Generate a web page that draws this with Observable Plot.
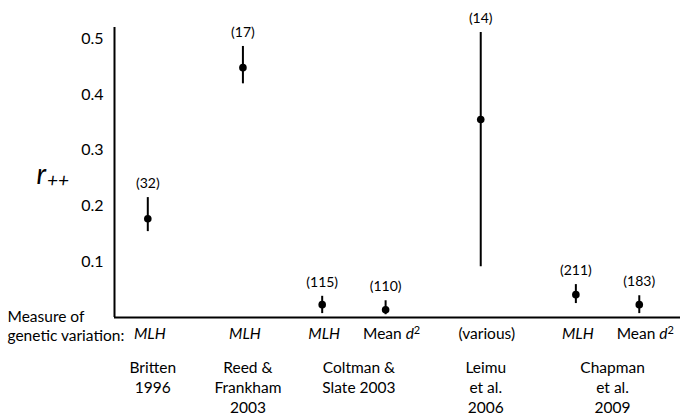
<!DOCTYPE html>
<html><head><meta charset="utf-8">
<script src="https://cdn.jsdelivr.net/npm/d3@7"></script>
<script src="https://cdn.jsdelivr.net/npm/@observablehq/plot@0.6"></script>
<style>
body{margin:0;background:#fff;}
#chart{width:682px;height:415px;}
</style></head><body><div id="chart"></div>
<script>
// ---- data ----
const studies = ["Britten\n1996","Reed &\nFrankham\n2003","Coltman &\nSlate 2003","Coltman &\nSlate 2003","Leimu\net al.\n2006","Chapman\net al.\n2009","Chapman\net al.\n2009"];
const measures = ["MLH","MLH","MLH","Mean d2","(various)","MLH","Mean d2"];
const slots = [1, 7, 12, 16, 22, 28, 32];           // ordinal category slots
const rValues = [0.177, 0.448, 0.023, 0.014, 0.355, 0.041, 0.023];
const lowValues = [0.154, 0.419, 0.007, 0.005, 0.091, 0.025, 0.007];
const highValues = [0.215, 0.486, 0.038, 0.030, 0.511, 0.059, 0.039];
const counts = ["(32)","(17)","(115)","(110)","(14)","(211)","(183)"];
const yTicks = [0.1, 0.2, 0.3, 0.4, 0.5];
const xDomain = [-1.1, 34.6];
const yDomain = [0, 0.52];

const rows = studies.map((s, i) => ({study: s, measure: measures[i], slot: slots[i], r: rValues[i], low: lowValues[i], high: highValues[i], n: counts[i]}));
const groups = d3.groups(rows, d => d.study).map(([s, rs]) => ({study: s, slot: d3.mean(rs, d => d.slot)}));

const font = "Lato, 'Open Sans', sans-serif";
const fs = 15.5;

const plot = Plot.plot({
  width: 682, height: 415,
  marginTop: 27, marginBottom: 98, marginLeft: 114, marginRight: 2,
  style: {fontFamily: font, fontSize: fs + "px", color: "#000", background: "#fff", overflow: "visible"},
  x: {domain: xDomain, axis: null},
  y: {domain: yDomain, axis: null},
  marks: [
    Plot.axisY(yTicks, {tickSize: 0, tickPadding: 11, fontSize: 16, tickFormat: d3.format(".1f"), label: null}),
    Plot.ruleX([xDomain[0]], {y1: yDomain[0], y2: yDomain[1], strokeWidth: 2, stroke: "#000"}),
    Plot.ruleY([0], {strokeWidth: 2, stroke: "#000"}),
    Plot.ruleX(rows, {x: "slot", y1: "low", y2: "high", strokeWidth: 2, stroke: "#000"}),
    Plot.dot(rows, {x: "slot", y: "r", r: 3.8, fill: "#000", stroke: null}),
    Plot.text(rows, {x: "slot", y: "high", text: "n", dy: -14, fontSize: 14}),
    Plot.text(rows.filter(d => d.measure === "MLH"), {x: "slot", y: 0, text: "measure", dy: 17, dx: 2, fontStyle: "italic", fontSize: fs}),
    Plot.text(rows.filter(d => d.measure !== "MLH"), {x: "slot", y: 0, text: "measure", dy: 17, dx: 6, fontSize: fs}),
    Plot.text(groups, {x: "slot", y: 0, text: "study", lineAnchor: "top", dy: 41, dx: 5, lineHeight: 1.3, fontSize: fs}),
    Plot.text(["Measure of\ngenetic variation:"], {x: xDomain[0], y: 0, text: d => d, textAnchor: "start", dx: -107, dy: 8, lineHeight: 1.2, fontSize: fs}),
    Plot.text(["r++"], {frameAnchor: "left", text: d => d, textAnchor: "start", dx: -78, fontSize: 26})
  ]
});
document.getElementById("chart").appendChild(plot);

// rich text: italic d with superscript 2, r with subscript ++
d3.select(plot).selectAll("text").each(function() {
  const t = d3.select(this);
  const s = this.textContent;
  if (s === "Mean d2") {
    t.text(null);
    t.append("tspan").text("Mean ");
    t.append("tspan").attr("font-style", "italic").text("d");
    t.append("tspan").attr("font-size", 11).attr("dy", -5).text("2");
  } else if (s === "r++") {
    t.text(null);
    t.attr("dy", null);
    t.append("tspan").attr("font-style", "italic").attr("font-size", 28).attr("dy", 3).text("r");
    t.append("tspan").attr("font-style", "italic").attr("font-size", 19).attr("dx", 1).attr("dy", 3).text("++");
  }
});
</script></body></html>
